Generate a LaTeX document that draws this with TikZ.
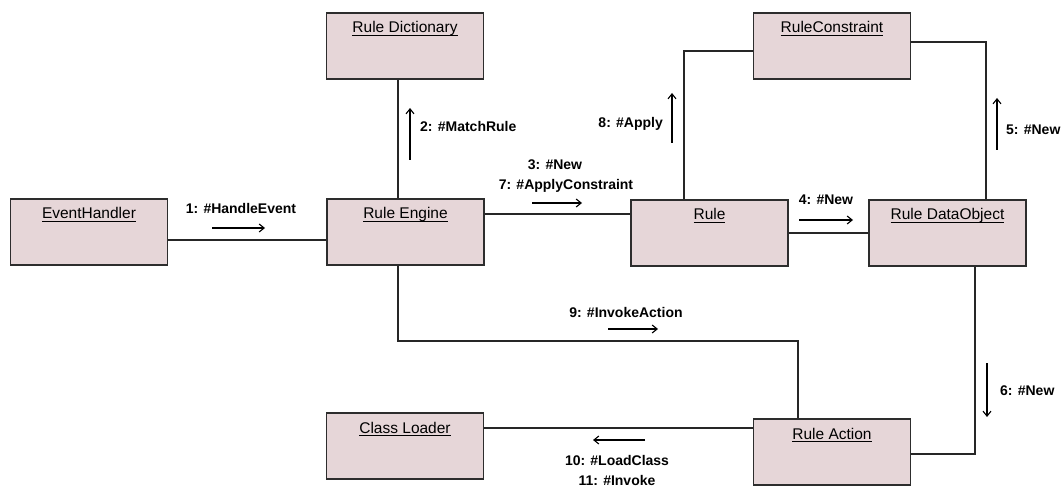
\documentclass[tikz,border=0pt]{standalone}
\usepackage{fontspec}
\setmainfont{Liberation Sans}
\usetikzlibrary{arrows.meta}
\definecolor{boxfill}{RGB}{230,214,216}
\definecolor{boxline}{RGB}{45,45,45}
% object name, underlined UML-style
\newcommand\ulname[1]{\setbox0\hbox{#1}\rlap{\rule[-3pt]{\wd0}{1.1pt}}\box0}
\begin{document}
\begin{tikzpicture}[x=1pt,y=-1pt,
  objbox/.style={draw=boxline, fill=boxfill, line width=1.5pt,
    minimum width=157pt, inner xsep=0pt, inner ysep=0pt,
    text height=20pt, text depth=46pt, font=\fontsize{15.5}{15.5}\selectfont},
  link/.style={draw=black!85, line width=1.2pt},
  msg/.style={line width=1.1pt, -{Straight Barb[length=5pt,width=8pt]}},
  msgtext/.style={font=\fontsize{14}{14}\selectfont\bfseries, inner sep=0pt,
    text height=10pt, text depth=0pt},
]
\fill[white] (0,0) rectangle (1063,489);
\path[use as bounding box] (0,0) rectangle (1063,489);

% objects
\node[objbox] (EH)   at (89,232)    {\ulname{EventHandler}};
\node[objbox] (RE)   at (405.5,232) {\ulname{Rule Engine}};
\node[objbox] (RD)   at (405,46)    {\ulname{Rule Dictionary}};
\node[objbox] (Rule) at (709.5,233) {\ulname{Rule}};
\node[objbox] (RC)   at (832,46)    {\ulname{RuleConstraint}};
\node[objbox] (RDO)  at (947.5,233) {\ulname{Rule DataObject}};
\node[objbox] (CL)   at (405,446)   {\ulname{Class Loader}};
\node[objbox] (RA)   at (832,452)   {\ulname{Rule Action}};

% routing helpers
\coordinate (hEH)  at (0,240);
\coordinate (vRE)  at (398,0);
\coordinate (hRR)  at (0,214);
\coordinate (vRule) at (684,0);
\coordinate (hRC)  at (0,51);
\coordinate (hRD)  at (0,233);
\coordinate (hRC2) at (0,42);
\coordinate (vRDO) at (986,0);
\coordinate (hINV) at (0,341);
\coordinate (vRA)  at (798,0);
\coordinate (hCL)  at (0,428);
\coordinate (vRDO2) at (975,0);
\coordinate (hRA)  at (0,454);

% links
\draw[link] (EH.east |- hEH) -- (RE.west |- hEH);
\draw[link] (RD.south -| vRE) -- (RE.north -| vRE);
\draw[link] (RE.east |- hRR) -- (Rule.west |- hRR);
\draw[link] (Rule.north -| vRule) |- (RC.west |- hRC);
\draw[link] (Rule.east |- hRD) -- (RDO.west |- hRD);
\draw[link] (RC.east |- hRC2) -| (RDO.north -| vRDO);
\draw[link] (RE.south -| vRE) |- (hINV -| vRA) -- (RA.north -| vRA);
\draw[link] (CL.east |- hCL) -- (RA.west |- hCL);
\draw[link] (RDO.south -| vRDO2) |- (RA.east |- hRA);

% messages
\coordinate (m1a) at (212,228);  \coordinate (m1b) at (265,228);
\draw[msg] (m1a) -- (m1b);
\node[msgtext] (t1) at (241,209) {1: \#HandleEvent};

\coordinate (m2a) at (410,160);  \coordinate (m2b) at (410,108);
\draw[msg] (m2a) -- (m2b);
\node[msgtext, anchor=west] (t2) at (420,127) {2: \#MatchRule};

\coordinate (m3a) at (532,203);  \coordinate (m3b) at (582,203);
\draw[msg] (m3a) -- (m3b);
\node[msgtext] (t3) at (555,165) {3: \#New};
\node[msgtext] (t7) at (566,185) {7: \#ApplyConstraint};

\coordinate (m8a) at (672,143);  \coordinate (m8b) at (672,93);
\draw[msg] (m8a) -- (m8b);
\node[msgtext, anchor=east] (t8) at (663,123) {8: \#Apply};

\coordinate (m4a) at (799,220);  \coordinate (m4b) at (853,220);
\draw[msg] (m4a) -- (m4b);
\node[msgtext] (t4) at (826,200) {4: \#New};

\coordinate (m5a) at (997,150);  \coordinate (m5b) at (997,98);
\draw[msg] (m5a) -- (m5b);
\node[msgtext, anchor=west] (t5) at (1006,130) {5: \#New};

\coordinate (m6a) at (987,363);  \coordinate (m6b) at (987,417);
\draw[msg] (m6a) -- (m6b);
\node[msgtext, anchor=west] (t6) at (1000,390) {6: \#New};

\coordinate (m9a) at (608,329);  \coordinate (m9b) at (658,329);
\draw[msg] (m9a) -- (m9b);
\node[msgtext] (t9) at (626,312) {9: \#InvokeAction};

\coordinate (m10a) at (645,440); \coordinate (m10b) at (593,440);
\draw[msg] (m10a) -- (m10b);
\node[msgtext] (t10) at (617,460) {10: \#LoadClass};
\node[msgtext] (t11) at (617,480) {11: \#Invoke};
\end{tikzpicture}
\end{document}
